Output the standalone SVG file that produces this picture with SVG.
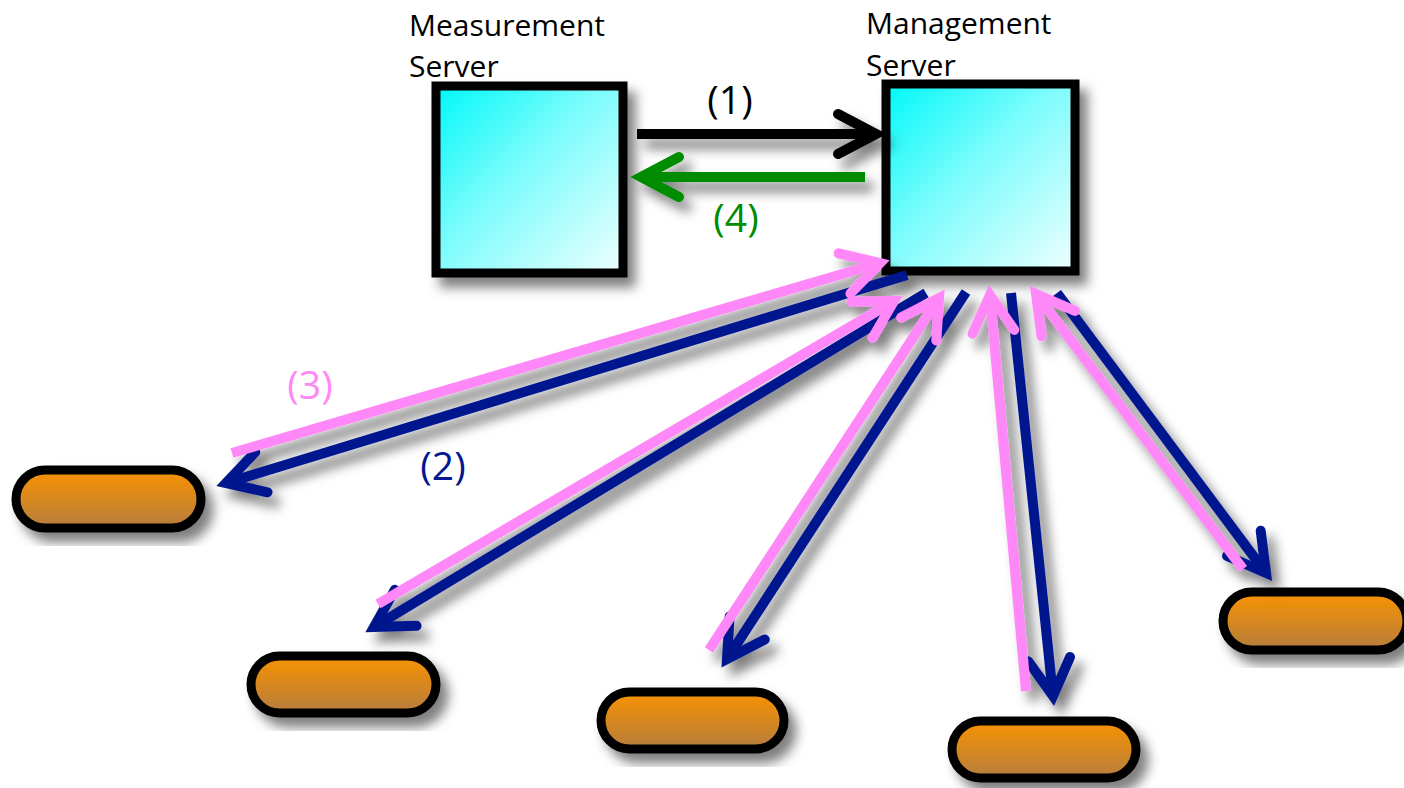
<svg xmlns="http://www.w3.org/2000/svg" width="1404" height="788" viewBox="0 0 1404 788">
  <style>
    .title { font-family: "Open Sans", "Liberation Sans", sans-serif; font-size: 30px; fill: #000; }
    .lbl { font-family: "Open Sans", "Liberation Sans", sans-serif; font-size: 39px; text-anchor: middle; }
    .box { stroke: #000; stroke-width: 9; fill: url(#cyanGrad); }
    .pill { stroke: #000; stroke-width: 9; fill: url(#orangeGrad); }
    .wire { fill: none; stroke-width: 10; stroke-linecap: butt; }
    .black { stroke: #000; marker-end: url(#hBlack); }
    .green { stroke: #008c00; marker-end: url(#hGreen); }
    .navy { stroke: #06188f; marker-end: url(#hNavy); }
    .pink { stroke: #ff88f8; marker-end: url(#hPink); }
    .head { fill: none; stroke-width: 10; stroke-linecap: round; stroke-linejoin: miter; }
  </style>
  <defs>
    <linearGradient id="cyanGrad" x1="0" y1="0" x2="1" y2="1">
      <stop offset="0" stop-color="#00f8f8"/>
      <stop offset="0.45" stop-color="#7dfcfc"/>
      <stop offset="1" stop-color="#eefffe"/>
    </linearGradient>
    <linearGradient id="orangeGrad" x1="0" y1="0" x2="0" y2="1">
      <stop offset="0" stop-color="#f89300"/>
      <stop offset="1" stop-color="#b67d3e"/>
    </linearGradient>
    <filter id="shadow" x="-20%" y="-20%" width="150%" height="150%">
      <feDropShadow dx="8" dy="10" stdDeviation="6" flood-color="#000" flood-opacity="0.5"/>
    </filter>
    <marker id="hBlack" markerUnits="userSpaceOnUse" markerWidth="60" markerHeight="60" viewBox="-50 -30 60 60" refX="0" refY="0" orient="auto" overflow="visible">
      <path class="head" d="M-38,-20 L0,0 L-38,20" stroke="#000"/>
    </marker>
    <marker id="hGreen" markerUnits="userSpaceOnUse" markerWidth="60" markerHeight="60" viewBox="-50 -30 60 60" refX="0" refY="0" orient="auto" overflow="visible">
      <path class="head" d="M-38,-20 L0,0 L-38,20" stroke="#008c00"/>
    </marker>
    <marker id="hNavy" markerUnits="userSpaceOnUse" markerWidth="60" markerHeight="60" viewBox="-50 -30 60 60" refX="0" refY="0" orient="auto" overflow="visible">
      <path class="head" d="M-37,-21 L0,0 L-37,21" stroke="#06188f"/>
    </marker>
    <marker id="hPink" markerUnits="userSpaceOnUse" markerWidth="60" markerHeight="60" viewBox="-50 -30 60 60" refX="0" refY="0" orient="auto" overflow="visible">
      <path class="head" d="M-37,-21 L0,0 L-37,21" stroke="#ff88f8"/>
    </marker>
  </defs>

  <rect x="0" y="0" width="1404" height="788" fill="#fff"/>

  <g id="node-measurement">
    <rect class="box" x="436" y="86" width="187" height="187" filter="url(#shadow)"/>
    <text class="title" x="409" y="36">Measurement</text>
    <text class="title" x="409" y="77">Server</text>
  </g>

  <g id="node-management">
    <rect class="box" x="886" y="84" width="189" height="187" filter="url(#shadow)"/>
    <text class="title" x="866" y="34">Management</text>
    <text class="title" x="866" y="76">Server</text>
  </g>

  <g id="node-1"><rect class="pill" x="16" y="470" width="185" height="58" rx="29" filter="url(#shadow)"/></g>
  <g id="node-2"><rect class="pill" x="251" y="656" width="185" height="57" rx="28.5" filter="url(#shadow)"/></g>
  <g id="node-3"><rect class="pill" x="601" y="692" width="183" height="57" rx="28.5" filter="url(#shadow)"/></g>
  <g id="node-4"><rect class="pill" x="952" y="721" width="184" height="57" rx="28.5" filter="url(#shadow)"/></g>
  <g id="node-5"><rect class="pill" x="1223" y="592" width="184" height="58" rx="29" filter="url(#shadow)"/></g>

  <g id="connectors" filter="url(#shadow)">
    <path class="wire black" d="M637,134 L876,134"/>
    <path class="wire green" d="M865,177 L641,177"/>

    <path class="wire navy" d="M907,275 L226,483"/>
    <path class="wire navy" d="M926,293 L374,627"/>
    <path class="wire navy" d="M966,292 L727,659"/>
    <path class="wire navy" d="M1011,293 L1053,696"/>
    <path class="wire navy" d="M1057,293 L1266,573"/>

    <path class="wire pink" d="M232,453 L880,263"/>
    <path class="wire pink" d="M378,604 L894,301"/>
    <path class="wire pink" d="M709,650 L939,298"/>
    <path class="wire pink" d="M1026,691 L990,295"/>
    <path class="wire pink" d="M1243,569 L1036,294"/>
  </g>

  <g id="edge-labels">
    <text class="lbl" x="730" y="114" fill="#000">(1)</text>
    <text class="lbl" x="443" y="480" fill="#06188f">(2)</text>
    <text class="lbl" x="310" y="399" fill="#ff88f8">(3)</text>
    <text class="lbl" x="736" y="232" fill="#008c00">(4)</text>
  </g>
</svg>
